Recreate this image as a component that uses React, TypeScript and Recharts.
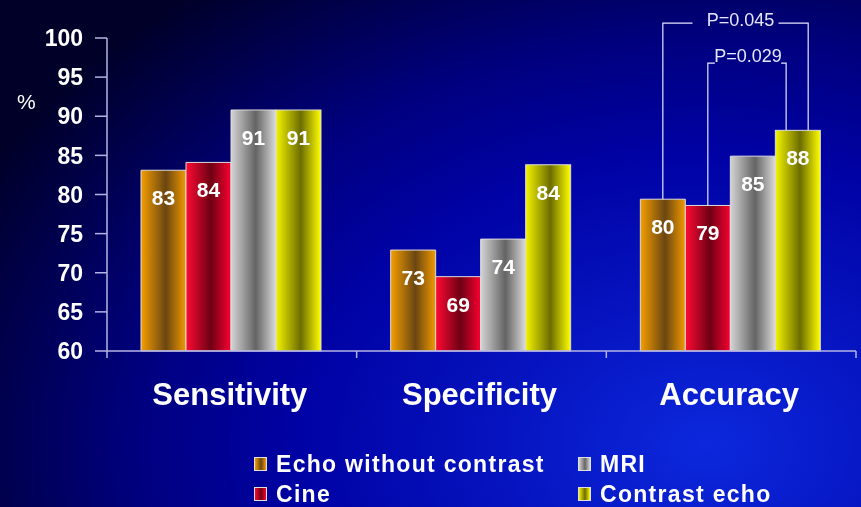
import React from "react";
import { BarChart, Bar, XAxis, YAxis, LabelList } from "recharts";

const categories = ["Sensitivity", "Specificity", "Accuracy"];
const echoNoContrast = [83.1, 72.9, 79.4];
const cine = [84.1, 69.5, 78.6];
const mri = [90.8, 74.3, 84.9];
const contrastEcho = [90.8, 83.8, 88.2];

const echoLabels = [83, 73, 80];
const cineLabels = [84, 69, 79];
const mriLabels = [91, 74, 85];
const contrastLabels = [91, 84, 88];

const yTicks = [60, 65, 70, 75, 80, 85, 90, 95, 100];

const pOuter = "P=0.045";
const pInner = "P=0.029";

const series = [
  { key: "echo", name: "Echo without contrast", grad: "gOrange", labels: echoLabels },
  { key: "cine", name: "Cine", grad: "gRed", labels: cineLabels },
  { key: "mri", name: "MRI", grad: "gGray", labels: mriLabels },
  { key: "contrast", name: "Contrast echo", grad: "gYellow", labels: contrastLabels },
];

const data = categories.map((name, i) => ({
  name,
  echo: echoNoContrast[i],
  cine: cine[i],
  mri: mri[i],
  contrast: contrastEcho[i],
}));

const FONT = '"Liberation Sans", Arial, sans-serif';
const AXIS = "#b4b4e4";
const BRACKET = "#e6e6ff";

const gradients: Record<string, [string, string, string]> = {
  gOrange: ["#f59e00", "#6a4612", "#f29a00"],
  gRed: ["#ff0a34", "#6e0014", "#f80030"],
  gGray: ["#d4d4d4", "#646464", "#dadada"],
  gYellow: ["#f4f400", "#6c6c00", "#ffff00"],
};

function CategoryTick(props: any) {
  const { x, y, payload, index, visibleTicksCount } = props;
  const half = payload.offset || 0;
  const last = index === visibleTicksCount - 1;
  return (
    <g>
      <line x1={x - half} x2={x - half} y1={y} y2={y + 7} stroke={AXIS} strokeWidth={1.5} />
      {last && <line x1={x + half} x2={x + half} y1={y} y2={y + 7} stroke={AXIS} strokeWidth={1.5} />}
      <text
        x={x - 2}
        y={y + 54}
        textAnchor="middle"
        fill="#ffffff"
        fontFamily={FONT}
        fontWeight="bold"
        fontSize={31}
      >
        {payload.value}
      </text>
    </g>
  );
}

// yellow bar; the Accuracy one also carries the two P-value brackets
function ContrastShape(props: any) {
  const { x, y, width, height, index } = props;
  const rect = (
    <rect x={x} y={y} width={width} height={height} fill="url(#gYellow)" stroke="#dcdcdc" strokeWidth={1} />
  );
  if (index !== 2) return rect;

  const base = y + height;
  const k = height / (contrastEcho[2] - 60);
  const yOf = (v: number) => base - (v - 60) * k;

  const orangeX = x - 3 * width + width / 2;
  const redX = x - 2 * width + width / 2;
  const outerR = x + width * 0.73;
  const innerR = x + width * 0.24;
  const outerTop = yOf(101.9);
  const innerTop = yOf(96.8);
  const outerMid = (orangeX + outerR) / 2 + 5;
  const innerMid = (redX + innerR) / 2 + 1;
  const ln = { stroke: BRACKET, strokeWidth: 1.2, fill: "none" };
  const txt = { fill: BRACKET, fontFamily: FONT, fontSize: 18, textAnchor: "middle" as const };

  return (
    <g>
      {rect}
      <polyline points={`${orangeX},${yOf(echoNoContrast[2])} ${orangeX},${outerTop} ${outerMid - 48},${outerTop}`} {...ln} />
      <polyline points={`${outerMid + 38},${outerTop} ${outerR},${outerTop} ${outerR},${y}`} {...ln} />
      <text x={outerMid} y={outerTop + 3} {...txt}>{pOuter}</text>
      <polyline points={`${redX},${yOf(cine[2])} ${redX},${innerTop} ${redX + 7},${innerTop}`} {...ln} />
      <polyline points={`${innerR - 5},${innerTop} ${innerR},${innerTop} ${innerR},${y}`} {...ln} />
      <text x={innerMid} y={innerTop - 1} {...txt}>{pInner}</text>
    </g>
  );
}

function LegendIcon({ grad }: { grad: string }) {
  const [a, b, c] = gradients[grad];
  return (
    <span
      style={{
        display: "inline-block",
        width: 13,
        height: 14,
        marginRight: 9,
        border: "1px solid #e0e0e0",
        boxSizing: "border-box",
        background: `linear-gradient(to right, ${a}, ${b} 55%, ${c})`,
      }}
    />
  );
}

export default function App() {
  return (
    <div
      style={{
        position: "fixed",
        left: 0,
        top: 0,
        width: 861,
        height: 507,
        overflow: "hidden",
        fontFamily: FONT,
        background:
          "radial-gradient(ellipse 95% 115% at 82% 88%, #0c28dc 0%, #0614c0 25%, #0002a4 50%, #00007e 70%, #00004a 88%, #000028 100%)",
      }}
    >
      <span style={{ position: "absolute", left: 17, top: 90, color: "#fff", fontSize: 21 }}>%</span>
      <BarChart
        width={861}
        height={507}
        data={data}
        margin={{ top: 38, right: 5, bottom: 96, left: 47 }}
        barGap={0}
        barCategoryGap={34}
      >
        <defs>
          {Object.entries(gradients).map(([id, [a, b, c]]) => (
            <linearGradient key={id} id={id} x1="0" y1="0" x2="1" y2="0">
              <stop offset="0%" stopColor={a} />
              <stop offset="55%" stopColor={b} />
              <stop offset="100%" stopColor={c} />
            </linearGradient>
          ))}
        </defs>
        <XAxis
          dataKey="name"
          height={60}
          axisLine={{ stroke: AXIS, strokeWidth: 1.5 }}
          tickLine={false}
          tickSize={0}
          tickMargin={0}
          tick={<CategoryTick />}
          interval={0}
        />
        <YAxis
          width={60}
          domain={[60, 100]}
          ticks={yTicks}
          interval={0}
          axisLine={{ stroke: AXIS, strokeWidth: 1.5 }}
          tickLine={{ stroke: AXIS, strokeWidth: 1.5 }}
          tickSize={12}
          tickMargin={12}
          tick={{ fill: "#ffffff", fontFamily: FONT, fontWeight: "bold", fontSize: 23 }}
        />
        {series.map((s) => (
          <Bar
            key={s.key}
            dataKey={s.key}
            name={s.name}
            fill={`url(#${s.grad})`}
            stroke="#dcdcdc"
            strokeWidth={1}
            isAnimationActive={false}
            shape={s.key === "contrast" ? <ContrastShape /> : undefined}
          >
            <LabelList
              dataKey={s.key}
              content={(p: any) => {
                const vb = p.viewBox || p;
                const i = p.index;
                return (
                  <text
                    x={vb.x + vb.width / 2}
                    y={vb.y + 35}
                    textAnchor="middle"
                    fill="#ffffff"
                    fontFamily={FONT}
                    fontWeight="bold"
                    fontSize={21}
                  >
                    {s.labels[i]}
                  </text>
                );
              }}
            />
          </Bar>
        ))}
      </BarChart>
      <div
        style={{
          position: "absolute",
          left: 254,
          top: 449,
          display: "grid",
          gridTemplateRows: "30px 30px",
          gridTemplateColumns: "324px 200px",
          gridAutoFlow: "column",
          color: "#ffffff",
          fontWeight: "bold",
          fontSize: 23,
          letterSpacing: 1.3,
        }}
      >
        {series.map((s) => (
          <div key={s.key} style={{ display: "flex", alignItems: "center", whiteSpace: "nowrap" }}>
            <LegendIcon grad={s.grad} />
            {s.name}
          </div>
        ))}
      </div>
    </div>
  );
}
